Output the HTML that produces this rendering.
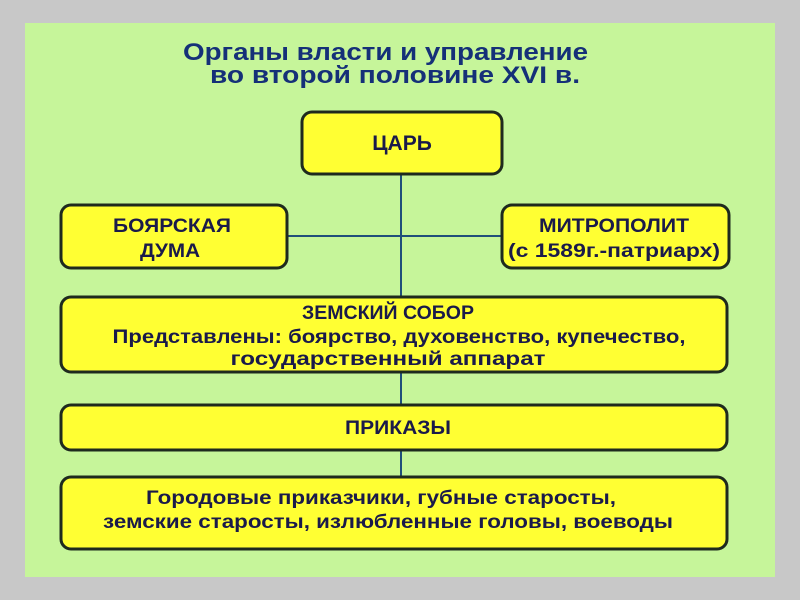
<!DOCTYPE html>
<html><head><meta charset="utf-8"><style>
html,body{margin:0;padding:0;background:#c9c9c9;}
svg{display:block}
text{font-family:"Liberation Sans","DejaVu Sans",sans-serif;font-weight:bold;}
</style></head><body>
<svg width="800" height="600" viewBox="0 0 800 600" xmlns="http://www.w3.org/2000/svg">
<rect x="0" y="0" width="800" height="600" fill="#c8c8c8"/>
<rect x="25" y="23" width="750" height="554" fill="#c6f59a"/>
<g stroke="#1f4f7a" stroke-width="2">
<line x1="401" y1="174" x2="401" y2="297"/>
<line x1="287" y1="236" x2="502" y2="236"/>
<line x1="401" y1="372" x2="401" y2="405"/>
<line x1="401" y1="450" x2="401" y2="477"/>
</g>
<g fill="#ffff33" stroke="#1e2a1e" stroke-width="3">
<rect x="302" y="112" width="200" height="62" rx="10"/>
<rect x="61" y="205" width="226" height="63" rx="10"/>
<rect x="502" y="205" width="227" height="63" rx="10"/>
<rect x="61" y="297" width="666" height="75" rx="10"/>
<rect x="61" y="405" width="666" height="45" rx="10"/>
<rect x="61" y="477" width="666" height="72" rx="10"/>
</g>
<g fill="#153078" font-size="24">
<text x="183" y="60" textLength="405" lengthAdjust="spacingAndGlyphs">Органы власти и управление</text>
<text x="210" y="83" textLength="370" lengthAdjust="spacingAndGlyphs">во второй половине XVI в.</text>
</g>
<g fill="#1a1a4a" font-size="19" text-anchor="middle">
<text x="402" y="150" font-size="21">ЦАРЬ</text>
<text x="172" y="232" textLength="118" lengthAdjust="spacingAndGlyphs">БОЯРСКАЯ</text>
<text x="170" y="257" textLength="60" lengthAdjust="spacingAndGlyphs">ДУМА</text>
<text x="614" y="232" textLength="150" lengthAdjust="spacingAndGlyphs">МИТРОПОЛИТ</text>
<text x="614" y="257" textLength="212" lengthAdjust="spacingAndGlyphs">(с 1589г.-патриарх)</text>
<text x="388" y="319" textLength="172" lengthAdjust="spacingAndGlyphs">ЗЕМСКИЙ СОБОР</text>
<text x="399" y="343" textLength="573" lengthAdjust="spacingAndGlyphs">Представлены: боярство, духовенство, купечество,</text>
<text x="388" y="365" textLength="315" lengthAdjust="spacingAndGlyphs">государственный аппарат</text>
<text x="398" y="434" textLength="106" lengthAdjust="spacingAndGlyphs">ПРИКАЗЫ</text>
<text x="381" y="504" textLength="470" lengthAdjust="spacingAndGlyphs">Городовые приказчики, губные старосты,</text>
<text x="388" y="528" textLength="570" lengthAdjust="spacingAndGlyphs">земские старосты, излюбленные головы, воеводы</text>
</g>
</svg>
</body></html>
